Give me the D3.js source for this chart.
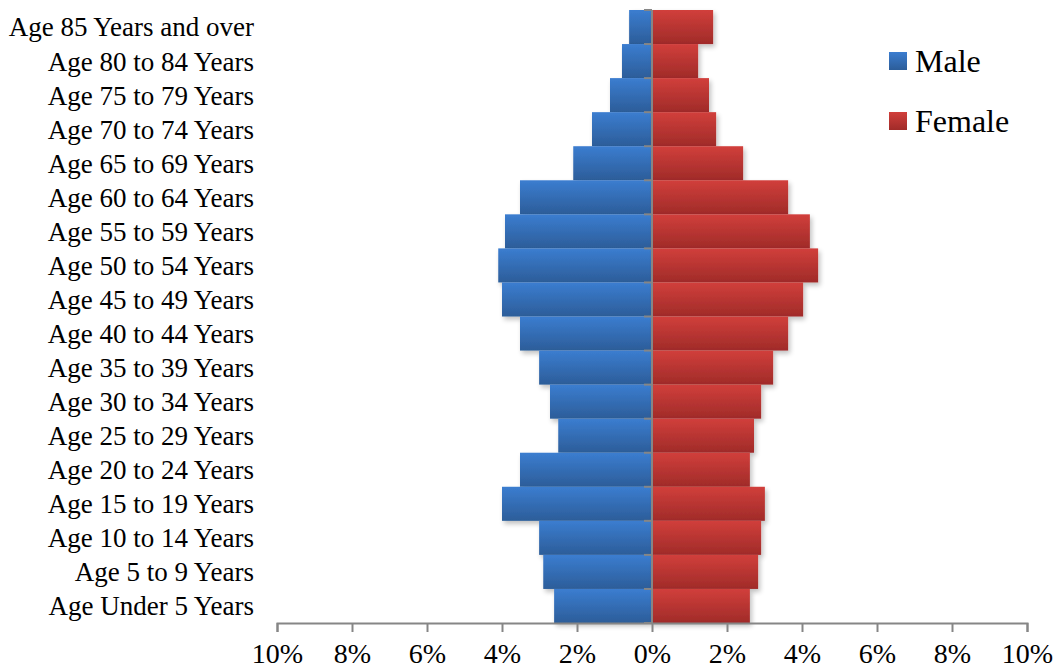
<!DOCTYPE html>
<html>
<head>
<meta charset="utf-8">
<script src="https://cdn.jsdelivr.net/npm/d3@7"></script>
<style>
  body { margin: 0; background: #fff; }
  svg { display: block; }
</style>
</head>
<body>
<svg id="chart" width="1056" height="671"></svg>
<script>
// age groups, top to bottom
const ageGroups = [
  "Age 85 Years and over", "Age 80 to 84 Years", "Age 75 to 79 Years",
  "Age 70 to 74 Years", "Age 65 to 69 Years", "Age 60 to 64 Years",
  "Age 55 to 59 Years", "Age 50 to 54 Years", "Age 45 to 49 Years",
  "Age 40 to 44 Years", "Age 35 to 39 Years", "Age 30 to 34 Years",
  "Age 25 to 29 Years", "Age 20 to 24 Years", "Age 15 to 19 Years",
  "Age 10 to 14 Years", "Age 5 to 9 Years", "Age Under 5 Years"
]
// percent of population
const male = [0.61, 0.8, 1.12, 1.6, 2.1, 3.52, 3.92, 4.1, 4.0, 3.52, 3.01, 2.72, 2.5, 3.52, 4.0, 3.01, 2.9, 2.61]
const female = [1.63, 1.23, 1.52, 1.71, 2.43, 3.63, 4.21, 4.43, 4.03, 3.63, 3.23, 2.91, 2.72, 2.61, 3.01, 2.91, 2.83, 2.61]
const tickValues = [-10, -8, -6, -4, -2, 0, 2, 4, 6, 8, 10]
const seriesNames = ["Male", "Female"]

const svg = d3.select("#chart")
const axisColor = "#868686"

const x = d3.scaleLinear().domain([-10, 10]).range([277, 1027])
const y = d3.scaleBand().domain(ageGroups).range([10, 623]).padding(0)

// gradients + shadow
const defs = svg.append("defs")
function grad(id, top, bottom){
    const g = defs.append("linearGradient").attr("id", id)
        .attr("x1", 0).attr("y1", 0).attr("x2", 0).attr("y2", 1)
    g.append("stop").attr("offset", "0%").attr("stop-color", top)
    g.append("stop").attr("offset", "100%").attr("stop-color", bottom)
}
grad("blueGrad", "#3b7dd0", "#2c5d99")
grad("redGrad", "#d13f3b", "#a02b29")

const shadow = defs.append("filter").attr("id", "shadow")
    .attr("x", "-10%").attr("y", "-20%").attr("width", "130%").attr("height", "160%")
shadow.append("feGaussianBlur").attr("in", "SourceAlpha").attr("stdDeviation", 2.5)
shadow.append("feOffset").attr("dx", 2).attr("dy", 3).attr("result", "blur")
shadow.append("feComponentTransfer").append("feFuncA").attr("type", "linear").attr("slope", 0.25)
const merge = shadow.append("feMerge")
merge.append("feMergeNode")
merge.append("feMergeNode").attr("in", "SourceGraphic")

const bars = svg.append("g")

bars.selectAll(".male")
    .data(ageGroups)
    .join("rect")
    .attr("class", "male")
    .attr("x", (d, i) => x(-male[i]))
    .attr("y", d => y(d))
    .attr("width", (d, i) => x(0) - x(-male[i]))
    .attr("height", y.bandwidth())
    .attr("fill", "url(#blueGrad)")
    .attr("filter", "url(#shadow)")

bars.selectAll(".female")
    .data(ageGroups)
    .join("rect")
    .attr("class", "female")
    .attr("x", x(0))
    .attr("y", d => y(d))
    .attr("width", (d, i) => x(female[i]) - x(0))
    .attr("height", y.bandwidth())
    .attr("fill", "url(#redGrad)")
    .attr("filter", "url(#shadow)")

// x axis
const xAxis = svg.append("g")
    .attr("transform", `translate(0,${y.range()[1]})`)
    .call(d3.axisBottom(x).tickValues(tickValues).tickSize(9).tickPadding(14)
        .tickFormat(d => Math.abs(d) + "%"))
xAxis.select(".domain").attr("stroke", axisColor).attr("stroke-width", 2)
xAxis.selectAll(".tick line").attr("stroke", axisColor).attr("stroke-width", 2)
xAxis.selectAll(".tick text")
    .attr("fill", "#000")
    .attr("dy", "0.6em")
    .style("font-family", "'Liberation Serif', serif")
    .style("font-size", "28px")

// vertical axis at 0 with ticks at band edges
const yAxisG = svg.append("g")
yAxisG.append("line")
    .attr("x1", x(0)).attr("x2", x(0))
    .attr("y1", y.range()[0]).attr("y2", y.range()[1])
    .attr("stroke", axisColor).attr("stroke-width", 2)
const edges = ageGroups.map(d => y(d)).concat([y.range()[1]])
yAxisG.selectAll(".edge")
    .data(edges)
    .join("line")
    .attr("x1", x(0) - 8).attr("x2", x(0))
    .attr("y1", d => d).attr("y2", d => d)
    .attr("stroke", axisColor).attr("stroke-width", 2)

// category labels
svg.append("g").selectAll("text")
    .data(ageGroups)
    .join("text")
    .attr("x", 254)
    .attr("y", d => y(d) + y.bandwidth() / 2)
    .attr("dy", "0.35em")
    .attr("text-anchor", "end")
    .style("font-family", "'Liberation Serif', serif")
    .style("font-size", "27px")
    .text(d => d)

// legend
const legend = svg.append("g").attr("transform", "translate(889,52)")
const legendFills = ["url(#blueGrad)", "url(#redGrad)"]
seriesNames.forEach((name, i) => {
    const g = legend.append("g").attr("transform", `translate(0,${i * 60})`)
    g.append("rect").attr("width", 18).attr("height", 18).attr("fill", legendFills[i])
    g.append("text")
        .attr("x", 26).attr("y", 9).attr("dy", "0.35em")
        .style("font-family", "'Liberation Serif', serif")
        .style("font-size", "32px")
        .text(name)
})
</script>
</body>
</html>
